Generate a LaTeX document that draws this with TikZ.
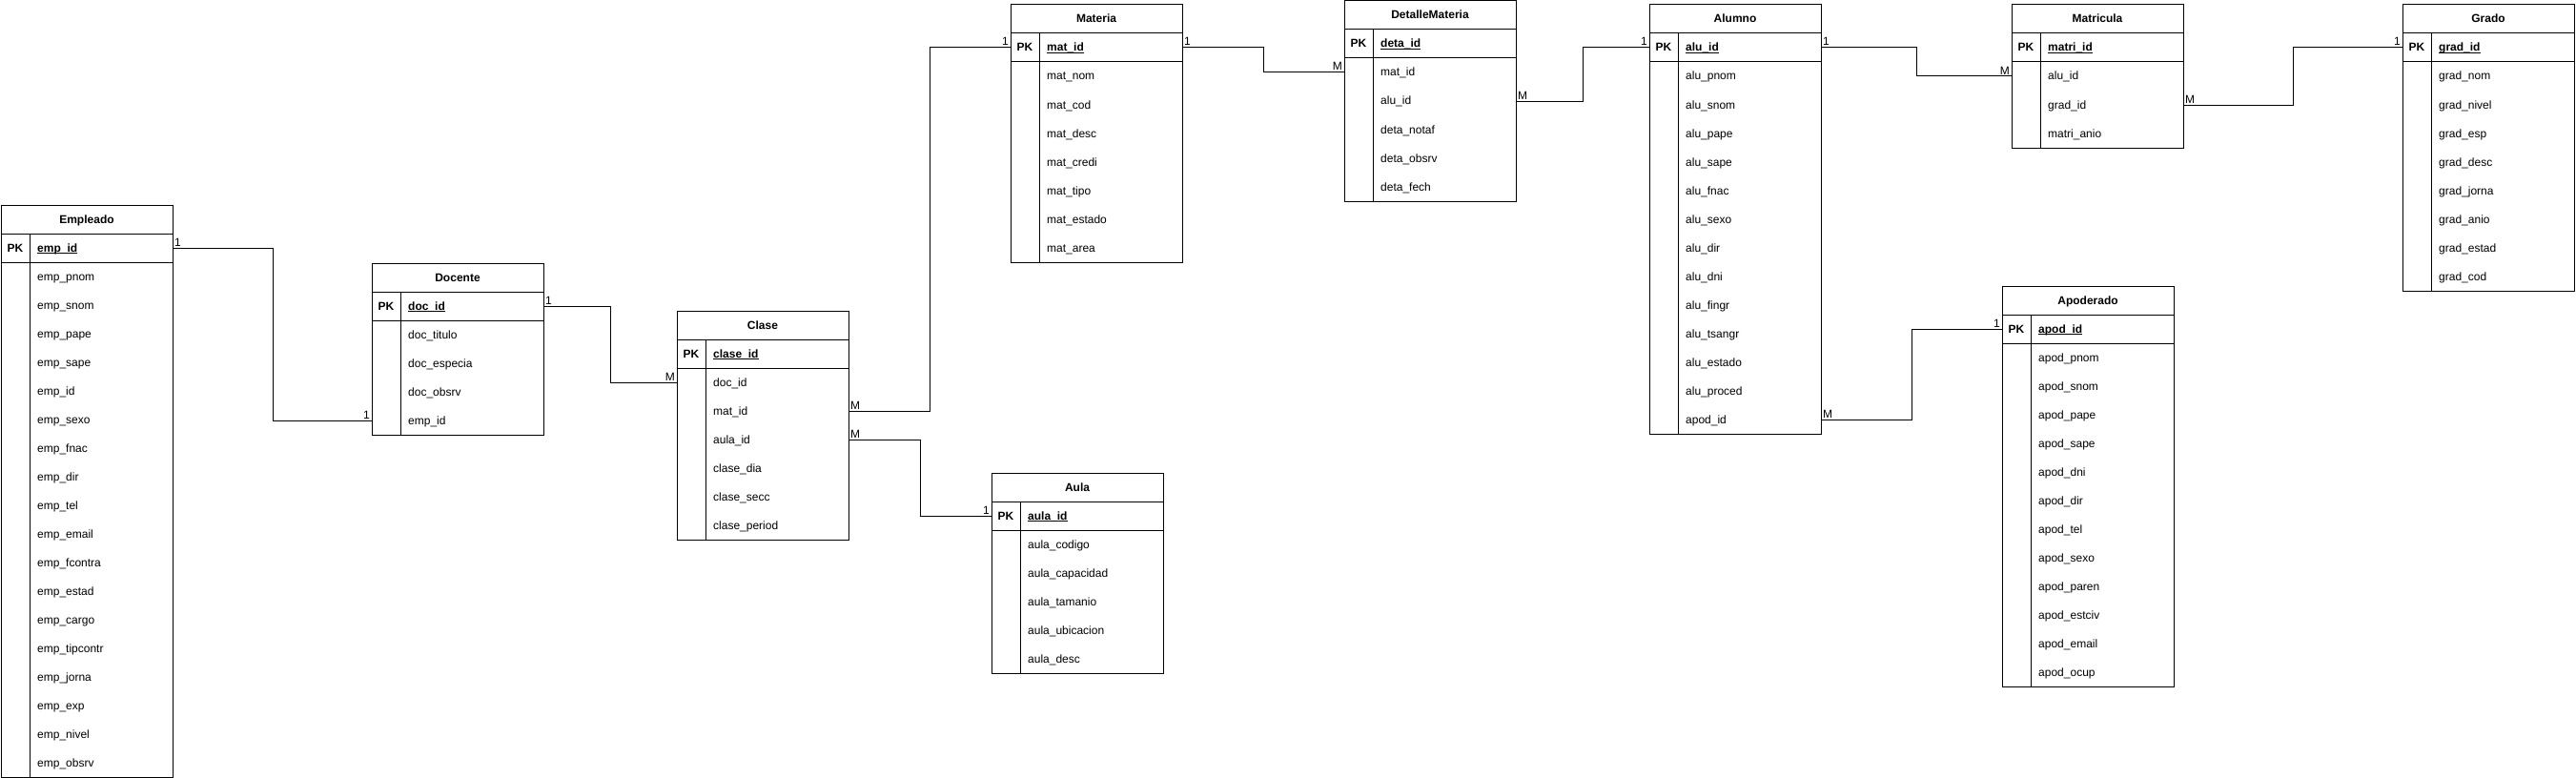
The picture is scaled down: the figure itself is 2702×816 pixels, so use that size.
\documentclass[tikz,border=0pt]{standalone}
\usepackage{fontspec}
\setmainfont{Liberation Sans}

% key underline sitting at the underscore height
\newcommand{\pkline}[1]{\setbox0\hbox{#1}\rlap{\rule[-2pt]{\wd0}{0.8pt}}\box0}

% one entity table: name, left x, top y, title, primary key, attributes
\newcommand{\erTable}[6]{%
  \node[tblrow] (#1) at (#2+90,#3+15) {};
  \node[tblhead] at (#2+90,#3+19) {#4};
  \node[tblrow] (#1-pk) at (#2+90,#3+45) {};
  \node[tblhead] at (#2+15,#3+49) {PK};
  \node[tbltxt,font=\fontsize{12}{14}\selectfont\bfseries] at (#2+38,#3+49) {\pkline{#5}};
  \foreach \f [count=\i] in {#6} {
    \node[tblrow] (#1-\i) at (#2+90,#3+45+30*\i) {};
    \node[tbltxt] at (#2+38,#3+49+30*\i) {\f};
    \xdef\tblrows{\i}
  }
  \draw[tblline] (#2,#3) rectangle (#2+180,#3+60+30*\tblrows);
  \draw[tblline] (#2,#3+30) -- ++(180,0) (#2,#3+60) -- ++(180,0);
  \draw[tblline] (#2+30,#3+30) -- (#2+30,#3+60+30*\tblrows);
}

\begin{document}
\begin{tikzpicture}[x=1pt,y=-1pt,
    every node/.style={font=\fontsize{12}{14}\selectfont},
    tblrow/.style={minimum width=180pt,minimum height=30pt,inner sep=0pt},
    tbltxt/.style={anchor=base west,inner sep=0pt},
    tblhead/.style={anchor=base,inner sep=0pt,font=\fontsize{12}{14}\selectfont\bfseries},
    tblline/.style={line width=1pt},
    rel/.style={line width=1pt},
    card/.style={inner sep=1.5pt}]

  \useasboundingbox (0,0) rectangle (2702,816);

  % ---- Tables ---------------------------------------------------
  \erTable{emp}{1}{215}{Empleado}{emp\_id}{emp\_pnom,emp\_snom,emp\_pape,
    emp\_sape,emp\_id,emp\_sexo,emp\_fnac,emp\_dir,emp\_tel,emp\_email,
    emp\_fcontra,emp\_estad,emp\_cargo,emp\_tipcontr,emp\_jorna,emp\_exp,
    emp\_nivel,emp\_obsrv}
  \erTable{doc}{390}{276}{Docente}{doc\_id}{doc\_titulo,doc\_especia,
    doc\_obsrv,emp\_id}
  \erTable{cla}{710}{326}{Clase}{clase\_id}{doc\_id,mat\_id,aula\_id,
    clase\_dia,clase\_secc,clase\_period}
  \erTable{aula}{1040}{496}{Aula}{aula\_id}{aula\_codigo,aula\_capacidad,
    aula\_tamanio,aula\_ubicacion,aula\_desc}
  \erTable{mat}{1060}{5}{Materia}{mat\_id}{mat\_nom,mat\_cod,mat\_desc,
    mat\_credi,mat\_tipo,mat\_estado,mat\_area}
  \erTable{det}{1410}{1}{DetalleMateria}{deta\_id}{mat\_id,alu\_id,
    deta\_notaf,deta\_obsrv,deta\_fech}
  \erTable{alu}{1730}{5}{Alumno}{alu\_id}{alu\_pnom,alu\_snom,alu\_pape,
    alu\_sape,alu\_fnac,alu\_sexo,alu\_dir,alu\_dni,alu\_fingr,alu\_tsangr,
    alu\_estado,alu\_proced,apod\_id}
  \erTable{matri}{2110}{5}{Matricula}{matri\_id}{alu\_id,grad\_id,matri\_anio}
  \erTable{apod}{2100}{300}{Apoderado}{apod\_id}{apod\_pnom,apod\_snom,
    apod\_pape,apod\_sape,apod\_dni,apod\_dir,apod\_tel,apod\_sexo,
    apod\_paren,apod\_estciv,apod\_email,apod\_ocup}
  \erTable{grad}{2520}{5}{Grado}{grad\_id}{grad\_nom,grad\_nivel,grad\_esp,
    grad\_desc,grad\_jorna,grad\_anio,grad\_estad,grad\_cod}

  % ---- Relations ------------------------------------------------
  \draw[rel] (emp-pk.east) node[card,anchor=south west] {1}
    -- ++(105,0) |- (doc-4.west) node[card,anchor=south east] {1};
  \draw[rel] (doc-pk.east) node[card,anchor=south west] {1}
    -- ++(70,0) |- (cla-1.west) node[card,anchor=south east] {M};
  \draw[rel] (cla-2.east) node[card,anchor=south west] {M}
    -- ++(85,0) |- (mat-pk.west) node[card,anchor=south east] {1};
  \draw[rel] (cla-3.east) node[card,anchor=south west] {M}
    -- ++(75,0) |- (aula-pk.west) node[card,anchor=south east] {1};
  \draw[rel] (mat-pk.east) node[card,anchor=south west] {1}
    -- ++(85,0) |- (det-1.west) node[card,anchor=south east] {M};
  \draw[rel] (det-2.east) node[card,anchor=south west] {M}
    -- ++(70,0) |- (alu-pk.west) node[card,anchor=south east] {1};
  \draw[rel] (alu-pk.east) node[card,anchor=south west] {1}
    -- ++(100,0) |- (matri-1.west) node[card,anchor=south east] {M};
  \draw[rel] (matri-2.east) node[card,anchor=south west] {M}
    -- ++(115,0) |- (grad-pk.west) node[card,anchor=south east] {1};
  \draw[rel] (alu-13.east) node[card,anchor=south west] {M}
    -- ++(95,0) |- (apod-pk.west) node[card,anchor=south east] {1};

\end{tikzpicture}
\end{document}
